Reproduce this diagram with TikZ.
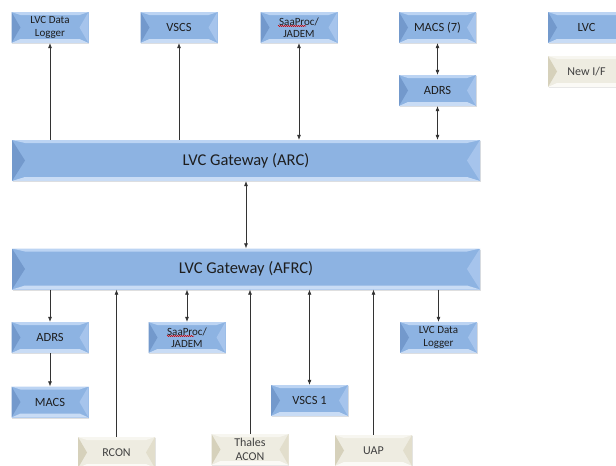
\documentclass[tikz,border=0pt]{standalone}
\usepackage{fontspec}
\setmainfont{Carlito}
\usetikzlibrary{arrows.meta,calc,shadows,decorations.pathmorphing}
\definecolor{lvcface}{HTML}{8DB3E2}
\definecolor{lvcleft}{HTML}{7399CC}
\definecolor{lvcright}{HTML}{A6C4EC}
\definecolor{lvctop}{HTML}{BCD4F3}
\definecolor{lvcbottom}{HTML}{C9DCF5}
\definecolor{newface}{HTML}{EEECE1}
\definecolor{newleft}{HTML}{D6D1BB}
\definecolor{newright}{HTML}{E2DECC}
\definecolor{newtop}{HTML}{F7F6F0}
\definecolor{newbottom}{HTML}{FBFAF6}
\definecolor{boxtext}{HTML}{1E1E1E}
\tikzset{
  bevel/.style n args={6}{fill=#1,
    path picture={
      \coordinate (bnw) at (path picture bounding box.north west);
      \coordinate (bne) at (path picture bounding box.north east);
      \coordinate (bsw) at (path picture bounding box.south west);
      \coordinate (bse) at (path picture bounding box.south east);
      \fill[#4] (bnw) -- (bne) -- ($(bne)+(-#6,-3pt)$) -- ($(bnw)+(#6,-3pt)$) -- cycle;
      \fill[#5] (bsw) -- (bse) -- ($(bse)+(-#6,4pt)$) -- ($(bsw)+(#6,4pt)$) -- cycle;
      \fill[#2] (bnw) -- ($(bnw)!0.5!(bsw)+(#6,0)$) -- (bsw) -- cycle;
      \fill[#3] (bne) -- ($(bne)!0.5!(bse)+(-#6,0)$) -- (bse) -- cycle;
    }},
  lvc/.style={bevel={lvcface}{lvcleft}{lvcright}{lvctop}{lvcbottom}{9pt},
    minimum width=77pt,minimum height=31pt,inner sep=0pt,align=center,
    text=boxtext,font=\fontsize{12.5}{14}\selectfont,
    drop shadow={opacity=0.25,shadow xshift=0.8pt,shadow yshift=-1.2pt}},
  lvc two/.style={lvc,font=\fontsize{11}{12.5}\selectfont},
  gateway/.style={bevel={lvcface}{lvcleft}{lvcright}{lvctop}{lvcbottom}{13pt},
    minimum width=468pt,minimum height=41pt,inner sep=0pt,
    text=boxtext,font=\fontsize{16.5}{18}\selectfont,
    drop shadow={opacity=0.25,shadow xshift=0.8pt,shadow yshift=-1.2pt}},
  newif/.style={bevel={newface}{newleft}{newright}{newtop}{newbottom}{9pt},
    minimum width=77pt,minimum height=31pt,inner sep=0pt,align=center,
    text=boxtext!85,font=\fontsize{12}{14}\selectfont,
    drop shadow={opacity=0.2,shadow xshift=0.8pt,shadow yshift=-1.2pt}},
  link/.style={draw=black!80,line width=0.6pt},
  tip/.style={>={Latex[length=5pt,width=4pt]}},
  squiggle/.style={draw=red!80!black,line width=0.5pt,
    decorate,decoration={snake,amplitude=0.6pt,segment length=2pt}}
}

\begin{document}
\begin{tikzpicture}[x=1pt,y=-1pt,tip]
  \clip (0,0) rectangle (616,466);
  \fill[white] (0,0) rectangle (616,466);

  % upper side (ARC)
  \node[lvc two] (tlog) at (50,27.5) {LVC Data\\Logger};
  \node[lvc] (tvscs) at (179,27.5) {VSCS};
  \node[lvc two] (tsaa) at (299,27.5) {SaaProc/\\JADEM};
  \node[lvc] (tmacs) at (437.5,27.5) {MACS (7)};
  \node[lvc] (tadrs) at (437.5,90.5) {ADRS};
  \node[gateway] (arc) at (246,160.5) {LVC Gateway (ARC)};

  % legend
  \node[lvc] (keylvc) at (586.5,27.5) {LVC};
  \node[newif] (keynew) at (586.5,71.5) {New I/F};

  % lower side (AFRC)
  \node[gateway] (afrc) at (246,269) {LVC Gateway (AFRC)};
  \node[lvc] (badrs) at (50,337.5) {ADRS};
  \node[lvc] (bmacs) at (50,402) {MACS};
  \node[lvc two] (bsaa) at (187,337.5) {SaaProc/\\JADEM};
  \node[lvc] (bvscs) at (309.5,400.5) {VSCS 1};
  \node[lvc two] (blog) at (438.5,337.5) {LVC Data\\Logger};
  \node[newif] (rcon) at (116.5,452.5) {RCON};
  \node[newif] (acon) at (250,449.5) {Thales\\ACON};
  \node[newif] (uap) at (373.5,450.5) {UAP};

  \draw[squiggle] ($(tsaa.center)+(-21pt,1.5pt)$) -- ($(tsaa.center)+(7pt,1.5pt)$);
  \draw[squiggle] ($(bsaa.center)+(-20pt,1.5pt)$) -- ($(bsaa.center)+(7pt,1.5pt)$);

  \draw[link,->] (tlog |- arc.north) -- (tlog.south);
  \draw[link,->] (tvscs |- arc.north) -- (tvscs.south);
  \draw[link,<->] (tsaa |- arc.north) -- (tsaa.south);
  \draw[link,<->] (tmacs.south) -- (tadrs.north);
  \draw[link,<->] (tadrs |- arc.north) -- (tadrs.south);
  \draw[link,<->] (arc.south) -- (afrc.north);

  \draw[link,->] (badrs |- afrc.south) -- (badrs.north);
  \draw[link,->] (badrs.south) -- (bmacs.north);
  \draw[link,<->] (bsaa |- afrc.south) -- (bsaa.north);
  \draw[link,<->] (bvscs |- afrc.south) -- (bvscs.north);
  \draw[link,->] (blog |- afrc.south) -- (blog.north);
  \draw[link,->] (rcon.north) -- (rcon |- afrc.south);
  \draw[link,->] (acon.north) -- (acon |- afrc.south);
  \draw[link,->] (uap.north) -- (uap |- afrc.south);
\end{tikzpicture}
\end{document}
